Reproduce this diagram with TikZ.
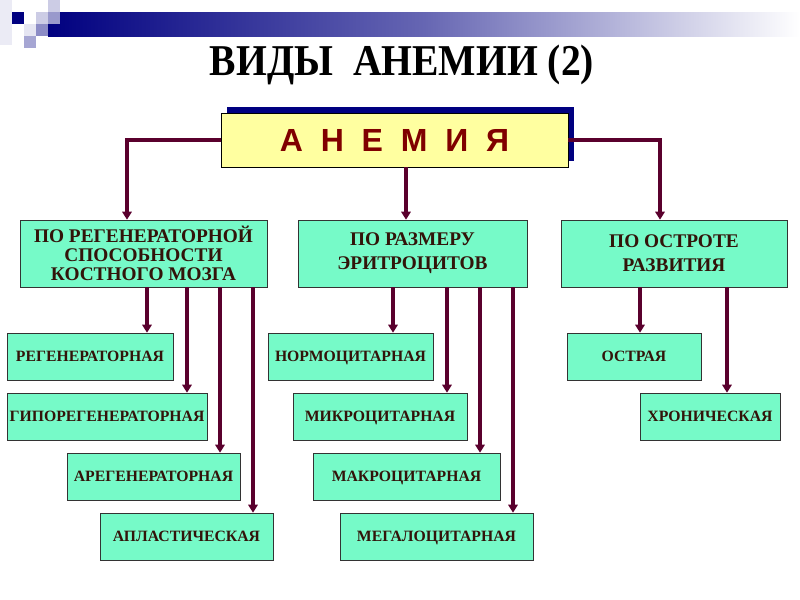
\documentclass[tikz,border=0pt]{standalone}
\usepackage{fontspec}
\setmainfont{Liberation Serif}
\newfontfamily\sansb{Liberation Sans}
\usepackage{tikz}
\usetikzlibrary{arrows.meta,shadows}

\definecolor{navy}{RGB}{0,0,128}
\definecolor{aqua}{RGB}{118,250,200}
\definecolor{lemon}{RGB}{255,255,160}
\definecolor{wine}{RGB}{90,0,45}
\definecolor{darkred}{RGB}{128,0,0}
\definecolor{ink}{RGB}{50,20,10}

\begin{document}
\begin{tikzpicture}[
  x=0.75pt, y=-0.75pt,           % 1 unit = 1 px, y downward
  box/.style={draw=black!80, fill=aqua, align=center, inner sep=1pt, minimum height=50.25pt, font=\bfseries\fontsize{14.5}{18}\selectfont, text=ink},
  leaf/.style={draw=black!80, fill=aqua, align=center, inner sep=1pt, minimum height=35.25pt, text height=8pt, text depth=0pt, font=\bfseries\fontsize{11.8}{13}\selectfont, text=ink},
  edg/.style={-{Triangle[length=6pt,width=7pt]}, line width=2.5pt, wine},
  every node/.style={font=\small}
]
\useasboundingbox (0,0) rectangle (800,600);

% banner
\shade[left color=navy, right color=white, middle color=navy!60] (48,12) rectangle (800,36);
\fill[navy!8] (0,0) rectangle (12,45);
\fill[navy] (12,12) rectangle (24,24);
\fill[navy!20] (48,0) rectangle (60,12);
\fill[navy!20] (36,12) rectangle (48,24);
\fill[navy!40] (48,12) rectangle (60,24);
\fill[navy!10] (24,24) rectangle (36,36);
\fill[navy!45] (36,24) rectangle (48,36);
\fill[navy!35] (24,36) rectangle (36,48);

\node[anchor=base, xscale=0.9, font=\bfseries\fontsize{33}{36}\selectfont] (T) at (402,75) {ВИДЫ\ \ АНЕМИИ (2)};

\node[draw=black, fill=lemon, minimum width=260.25pt, minimum height=40.5pt,
  drop shadow={shadow xshift=4.5pt, shadow yshift=4.5pt, fill=navy, opacity=1},
  font=\sansb\bfseries\fontsize{24}{26}\selectfont, text=darkred] (A) at (394.5,140) {А\ \ Н\ \ Е\ \ М\ \ И\ \ Я};

\node[box, minimum width=185.25pt, font=\bfseries\fontsize{14.5}{14}\selectfont] (K1) at (143.5,253.5) {ПО РЕГЕНЕРАТОРНОЙ\\СПОСОБНОСТИ\\КОСТНОГО МОЗГА};
\node[box, minimum width=171.75pt] (K2) at (412.5,253.5) {ПО РАЗМЕРУ\\ЭРИТРОЦИТОВ};
\node[box, minimum width=169.5pt] (K3) at (674,253.5) {ПО ОСТРОТЕ\\РАЗВИТИЯ};

\node[leaf, minimum width=124.5pt] (R1) at (90,356.5) {РЕГЕНЕРАТОРНАЯ};
\node[leaf, minimum width=150pt] (R2) at (107,416.5) {ГИПОРЕГЕНЕРАТОРНАЯ};
\node[leaf, minimum width=129.75pt] (R3) at (153.5,476.5) {АРЕГЕНЕРАТОРНАЯ};
\node[leaf, minimum width=129.75pt] (R4) at (186.5,536.5) {АПЛАСТИЧЕСКАЯ};

\node[leaf, minimum width=123.75pt] (E1) at (350.5,356.5) {НОРМОЦИТАРНАЯ};
\node[leaf, minimum width=130.5pt] (E2) at (380,416.5) {МИКРОЦИТАРНАЯ};
\node[leaf, minimum width=140.25pt] (E3) at (406.5,476.5) {МАКРОЦИТАРНАЯ};
\node[leaf, minimum width=144.75pt] (E4) at (436.5,536.5) {МЕГАЛОЦИТАРНАЯ};

\node[leaf, minimum width=100.5pt] (O1) at (634,356.5) {ОСТРАЯ};
\node[leaf, minimum width=105pt] (O2) at (710,416.5) {ХРОНИЧЕСКАЯ};

\draw[edg] (A.west) -| (127,0 |- K1.north);
\draw[edg] (406,0 |- A.south) -- (406,0 |- K2.north);
\draw[edg] (A.east) -| (660,0 |- K3.north);

\draw[edg] (147,0 |- K1.south) -- (147,0 |- R1.north);
\draw[edg] (187,0 |- K1.south) -- (187,0 |- R2.north);
\draw[edg] (220,0 |- K1.south) -- (220,0 |- R3.north);
\draw[edg] (253,0 |- K1.south) -- (253,0 |- R4.north);

\draw[edg] (393,0 |- K2.south) -- (393,0 |- E1.north);
\draw[edg] (447,0 |- K2.south) -- (447,0 |- E2.north);
\draw[edg] (480,0 |- K2.south) -- (480,0 |- E3.north);
\draw[edg] (513,0 |- K2.south) -- (513,0 |- E4.north);

\draw[edg] (640,0 |- K3.south) -- (640,0 |- O1.north);
\draw[edg] (727,0 |- K3.south) -- (727,0 |- O2.north);

\end{tikzpicture}
\end{document}
